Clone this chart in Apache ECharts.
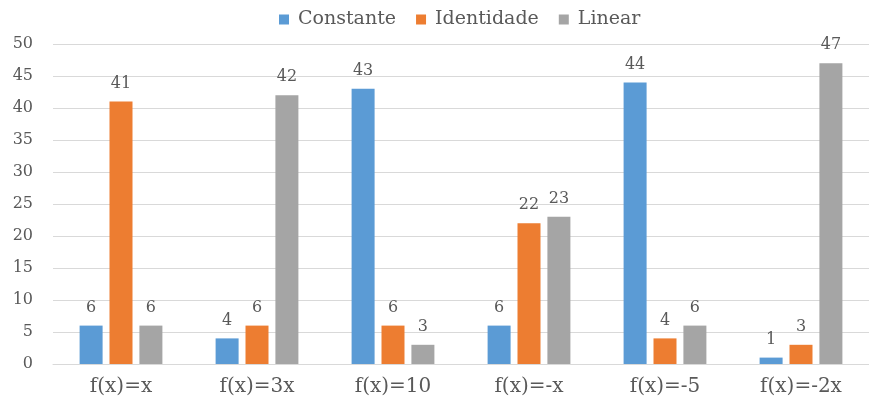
<!DOCTYPE html>
<html>
<head>
<meta charset="utf-8">
<script src="https://cdn.jsdelivr.net/npm/echarts@6/dist/echarts.min.js"></script>
<style>
  html, body { margin: 0; padding: 0; background: #ffffff; }
  #chart { width: 869px; height: 401px; }
</style>
</head>
<body>
<div id="chart"></div>
<script>
// Category labels (functions) and counts per classification
const categories = ['f(x)=x', 'f(x)=3x', 'f(x)=10', 'f(x)=-x', 'f(x)=-5', 'f(x)=-2x'];
const constante = [6, 4, 43, 6, 44, 1];
const identidade = [41, 6, 6, 22, 4, 3];
const linear = [6, 42, 3, 23, 6, 47];
const seriesNames = ['Constante', 'Identidade', 'Linear'];
const colors = ['#5b9bd5', '#ed7d31', '#a5a5a5'];

const FONT = 'DejaVu Serif';
const TEXT = '#595959';

const chart = echarts.init(document.getElementById('chart'));

function bar(name, data, color) {
  return {
    name: name,
    type: 'bar',
    data: data,
    barWidth: 23,
    barGap: '30%',
    itemStyle: { color: color },
    label: {
      show: true,
      position: 'top',
      distance: 10,
      fontFamily: FONT,
      fontSize: 16,
      color: TEXT
    }
  };
}

chart.setOption({
  animation: false,
  color: colors,
  legend: {
    top: 5,
    left: 274,
    itemWidth: 10,
    itemHeight: 10,
    itemGap: 20,
    icon: 'rect',
    textStyle: { fontFamily: FONT, fontSize: 19, color: TEXT, padding: [0, 0, 0, 4] },
    data: seriesNames
  },
  grid: { left: 53, right: -9, top: 44, bottom: 37, containLabel: false },
  xAxis: {
    type: 'category',
    data: categories,
    axisTick: { show: false },
    axisLine: { lineStyle: { color: '#d9d9d9' } },
    axisLabel: { fontFamily: FONT, fontSize: 20, color: TEXT, margin: 13 }
  },
  yAxis: {
    type: 'value',
    min: 0,
    max: 50,
    interval: 5,
    axisLine: { show: false },
    axisTick: { show: false },
    splitLine: { lineStyle: { color: '#d9d9d9' } },
    axisLabel: { fontFamily: FONT, fontSize: 16, color: TEXT, margin: 20 }
  },
  series: [
    bar(seriesNames[0], constante, colors[0]),
    bar(seriesNames[1], identidade, colors[1]),
    bar(seriesNames[2], linear, colors[2])
  ]
});
</script>
</body>
</html>
